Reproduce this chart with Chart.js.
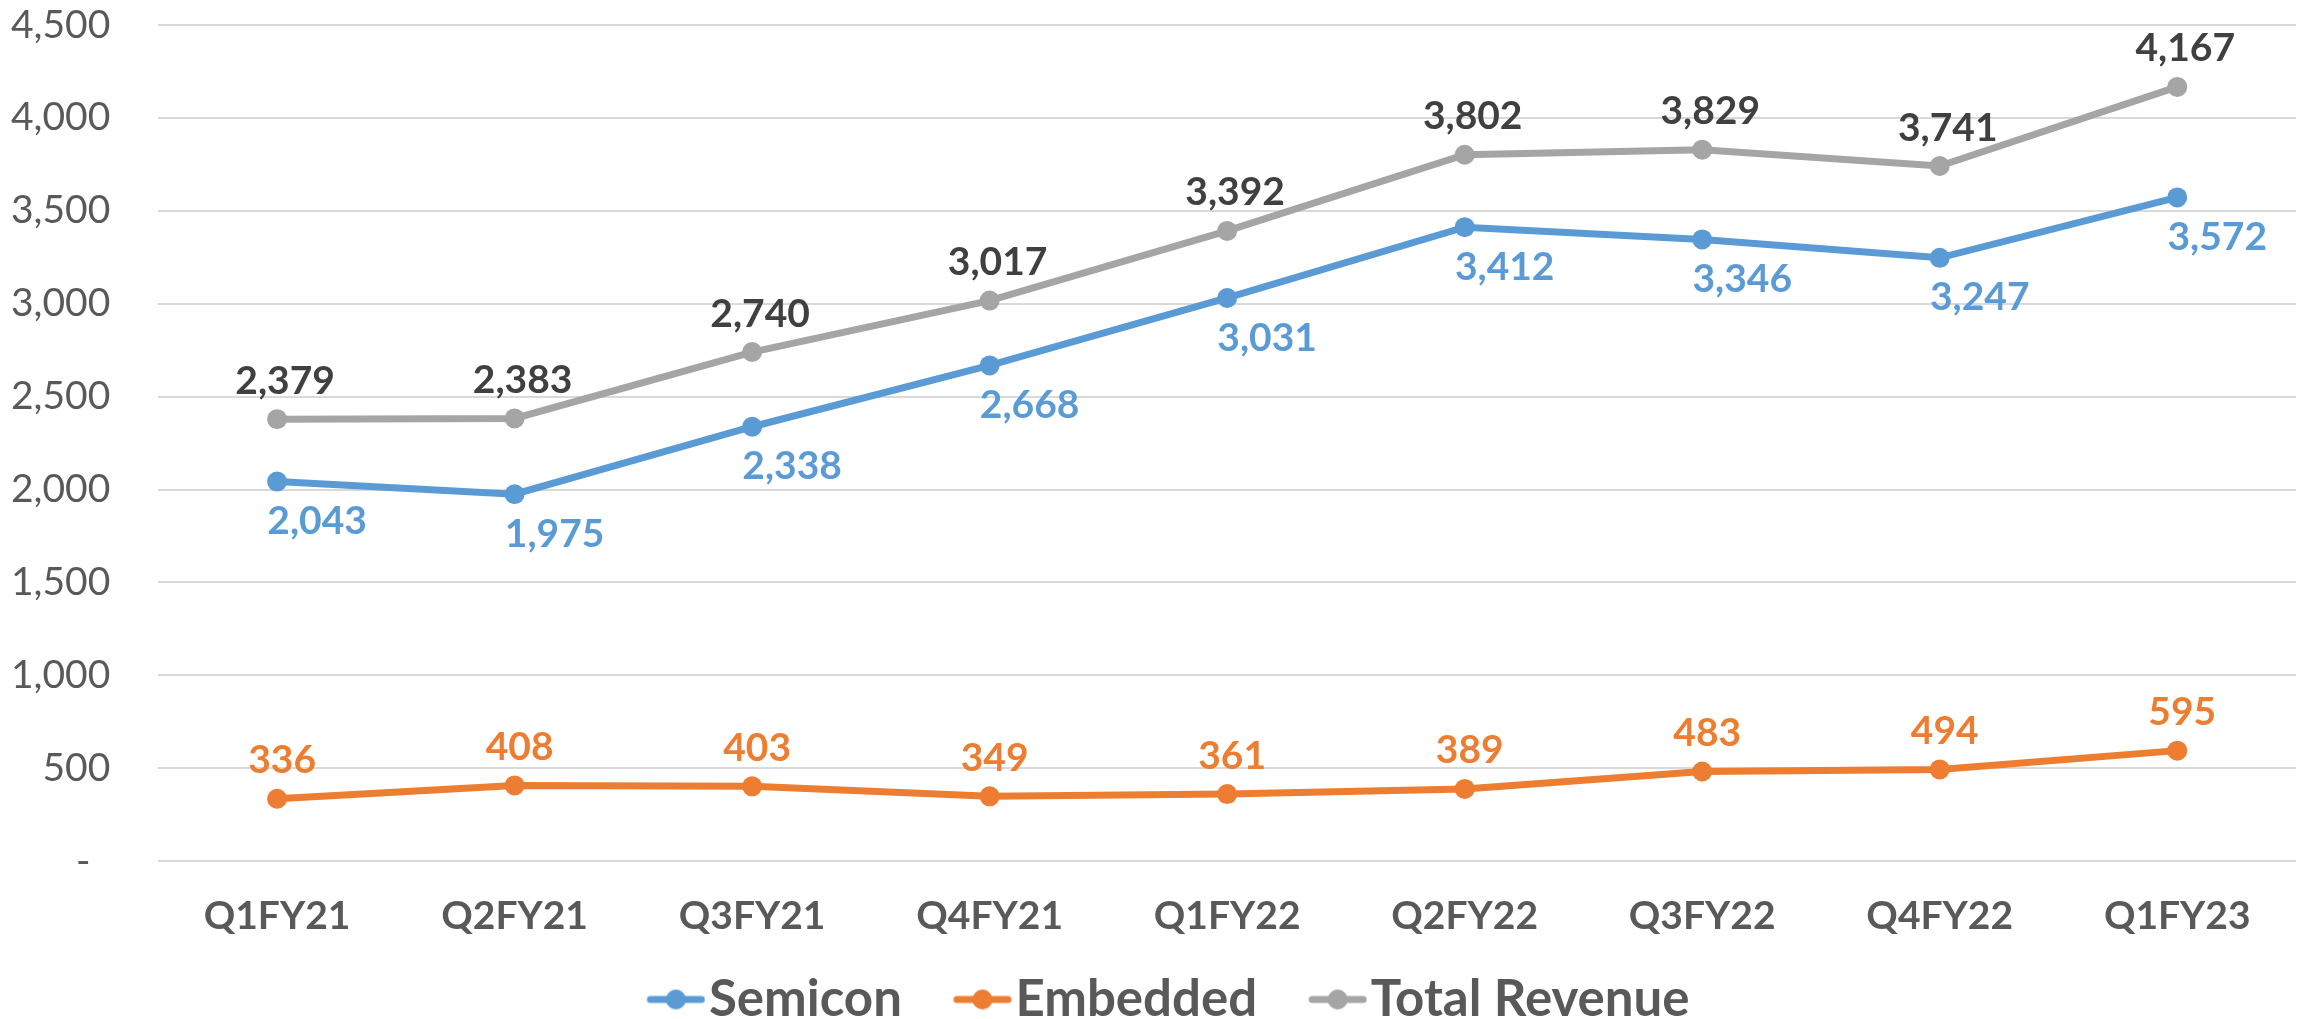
<!DOCTYPE html>
<html>
<head>
<meta charset="utf-8">
<script src="https://cdn.jsdelivr.net/npm/chart.js@4"></script>
<style>
  html, body { margin: 0; padding: 0; background: #ffffff; }
  #wrap { width: 2310px; height: 1019px; position: relative; }
</style>
</head>
<body>
<div id="wrap"><canvas id="c" width="2310" height="1019"></canvas></div>
<script>
const categories = ['Q1FY21','Q2FY21','Q3FY21','Q4FY21','Q1FY22','Q2FY22','Q3FY22','Q4FY22','Q1FY23'];
const semicon = [2043, 1975, 2338, 2668, 3031, 3412, 3346, 3247, 3572];
const embedded = [336, 408, 403, 349, 361, 389, 483, 494, 595];
const totalRevenue = [2379, 2383, 2740, 3017, 3392, 3802, 3829, 3741, 4167];
const seriesNames = ['Semicon', 'Embedded', 'Total Revenue'];

const COLORS = ['#5B9BD5', '#ED7D31', '#A5A5A5'];
const LABEL_COLORS = ['#5B9BD5', '#ED7D31', '#404040'];
const FONT = 'Lato, "Open Sans", sans-serif';

// legend marker: line with a dot, drawn in the right part of a wider box
function legendMarker(color) {
  const c = document.createElement('canvas');
  c.width = 110; c.height = 24;
  const g = c.getContext('2d');
  g.strokeStyle = color; g.lineWidth = 7; g.lineCap = 'round';
  g.beginPath(); g.moveTo(55, 12); g.lineTo(106, 12); g.stroke();
  g.fillStyle = color;
  g.beginPath(); g.arc(80.5, 12, 10, 0, Math.PI * 2); g.fill();
  return c;
}

// placement of value labels relative to each point, per series: [dx, dy]
const labelPlacement = [[40, 40], [5, -38], [8, -38]];

const valueLabels = {
  id: 'valueLabels',
  afterDatasetsDraw(chart) {
    const ctx = chart.ctx;
    ctx.save();
    ctx.font = 'bold 39px ' + FONT;
    ctx.textAlign = 'center';
    ctx.textBaseline = 'middle';
    chart.data.datasets.forEach((ds, di) => {
      const meta = chart.getDatasetMeta(di);
      ctx.fillStyle = LABEL_COLORS[di];
      meta.data.forEach((pt, i) => {
        const [dx, dy] = labelPlacement[di];
        ctx.fillText(ds.data[i].toLocaleString('en-US'), pt.x + dx, pt.y + dy);
      });
    });
    ctx.restore();
  }
};

const dataSets = [semicon, embedded, totalRevenue].map((arr, i) => ({
  label: seriesNames[i],
  data: arr,
  borderColor: COLORS[i],
  backgroundColor: COLORS[i],
  borderWidth: 7,
  pointRadius: 10,
  pointHoverRadius: 10,
  pointBorderWidth: 0,
  pointBackgroundColor: COLORS[i],
  tension: 0
}));

new Chart(document.getElementById('c'), {
  type: 'line',
  data: { labels: categories, datasets: dataSets },
  options: {
    responsive: false,
    animation: false,
    layout: { padding: { left: 11, right: 14, top: 25, bottom: -16 } },
    plugins: {
      tooltip: { enabled: false },
      legend: {
        position: 'bottom',
        labels: {
          usePointStyle: true,
          pointStyleWidth: 66,
          padding: 22,
          color: '#595959',
          font: { family: FONT, size: 51, weight: 'bold' },
          generateLabels(chart) {
            return chart.data.datasets.map((ds, i) => ({
              text: ds.label,
              pointStyle: legendMarker(COLORS[i]),
              fillStyle: COLORS[i],
              strokeStyle: COLORS[i],
              lineWidth: 0,
              fontColor: '#595959',
              hidden: false,
              datasetIndex: i
            }));
          }
        }
      }
    },
    scales: {
      x: {
        offset: true,
        grid: { display: true, drawOnChartArea: false, drawTicks: true, tickLength: 32, tickColor: 'rgba(0,0,0,0)', color: 'rgba(0,0,0,0)' },
        border: { display: false },
        ticks: { color: '#595959', padding: 0, font: { family: FONT, size: 39, weight: 'bold' } },
        afterFit(scale) { scale.height += 12; }
      },
      y: {
        min: 0, max: 4500,
        grid: { color: '#D9D9D9', lineWidth: 2, drawTicks: true, tickLength: 48, tickColor: 'rgba(0,0,0,0)' },
        border: { display: false },
        ticks: {
          stepSize: 500,
          padding: 0,
          color: '#595959',
          font: { family: FONT, size: 39 },
          callback: v => v === 0 ? '-  ' : v.toLocaleString('en-US')
        }
      }
    }
  },
  plugins: [valueLabels]
});
</script>
</body>
</html>
